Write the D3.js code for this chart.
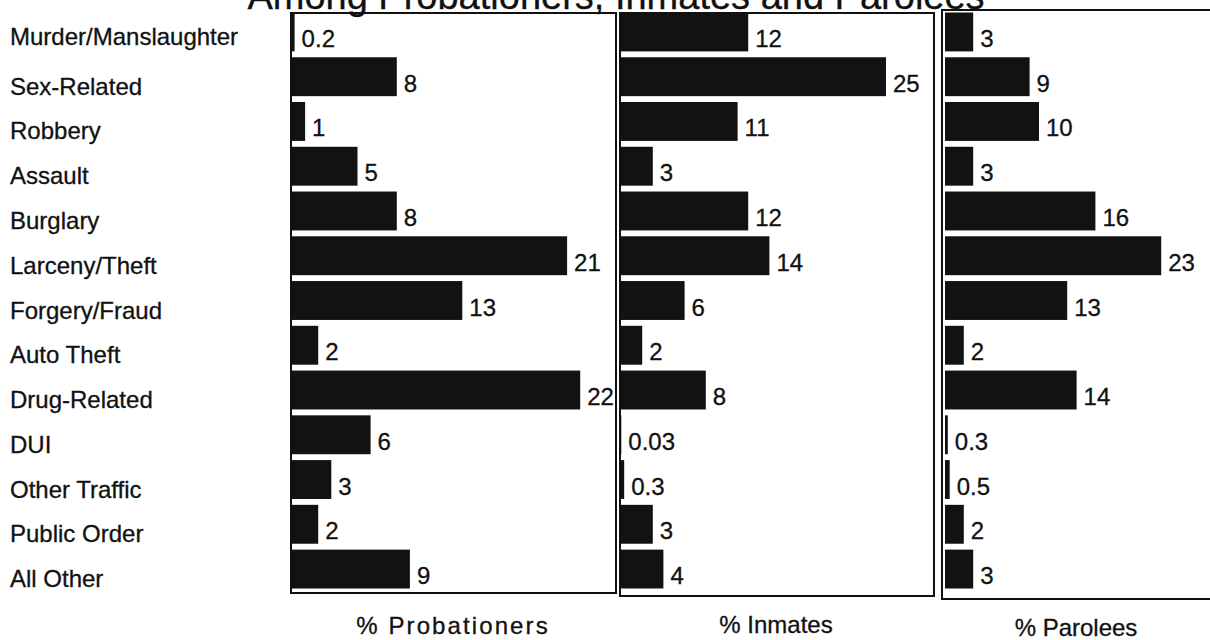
<!DOCTYPE html>
<html>
<head>
<meta charset="utf-8">
<script src="https://cdn.jsdelivr.net/npm/d3@7"></script>
<style>
  html, body { margin: 0; padding: 0; background: #fff; }
  svg { display: block; font-family: "Liberation Sans", Arial, Helvetica, sans-serif; }
  text { stroke: #111; stroke-width: 0.3px; }
</style>
</head>
<body>
<svg id="chart" width="1210" height="640"></svg>
<script>
const chartTitle = "Among Probationers, Inmates and Parolees";
const categories = ["Murder/Manslaughter", "Sex-Related", "Robbery", "Assault", "Burglary",
  "Larceny/Theft", "Forgery/Fraud", "Auto Theft", "Drug-Related", "DUI", "Other Traffic",
  "Public Order", "All Other"];
const probationers = [0.2, 8, 1, 5, 8, 21, 13, 2, 22, 6, 3, 2, 9];
const inmates = [12, 25, 11, 3, 12, 14, 6, 2, 8, 0.03, 0.3, 3, 4];
const parolees = [3, 9, 10, 3, 16, 23, 13, 2, 14, 0.3, 0.5, 2, 3];
const panelTitles = ["% Probationers", "% Inmates", "% Parolees"];

const svg = d3.select("#chart");

// Title (cut off at top, as in the scan)
svg.append("text")
  .attr("x", 616).attr("y", 9)
  .attr("text-anchor", "middle")
  .attr("font-size", 38)
  .attr("fill", "#111")
  .text(chartTitle);

const y = d3.scaleBand().domain(categories).range([12.5, 588.5]).paddingInner(0.131).paddingOuter(0);

// Category labels
svg.append("g").selectAll("text").data(categories).join("text")
  .attr("x", 10)
  .attr("y", (d, i) => y(d) + y.bandwidth() / 2 + (i === 0 ? 13 : 18))
  .attr("font-size", 24)
  .attr("fill", "#111")
  .text(d => d);

const panels = [
  { values: probationers, max: 22, x0: 292, k: 13.1, box: [291, 13, 616, 593], title: panelTitles[0], tx: 453, ty: 634, ls: 2.1 },
  { values: inmates, max: 25, x0: 621, k: 10.6, box: [620, 13, 934, 596], title: panelTitles[1], tx: 776, ty: 633, ls: 0 },
  { values: parolees, max: 23, x0: 945, k: 9.4, box: [942, 10, 1225, 599], title: panelTitles[2], tx: 1076, ty: 636, ls: 0 }
];

panels.forEach(p => {
  const x = d3.scaleLinear().domain([0, p.max]).range([p.x0, p.x0 + p.max * p.k]);
  const g = svg.append("g");
  const rows = categories.map((c, i) => ({ c, v: p.values[i] }));

  g.selectAll("rect.bar").data(rows).join("rect")
    .attr("class", "bar")
    .attr("x", x(0))
    .attr("y", d => y(d.c))
    .attr("width", d => x(d.v) - x(0))
    .attr("height", y.bandwidth())
    .attr("fill", "#121212");

  g.selectAll("text.val").data(rows).join("text")
    .attr("class", "val")
    .attr("x", d => x(d.v) + 7)
    .attr("y", d => y(d.c) + y.bandwidth() / 2 + 15)
    .attr("font-size", 24)
    .attr("fill", "#111")
    .text(d => String(d.v));

  const [bx0, by0, bx1, by1] = p.box;
  g.append("rect")
    .attr("x", bx0).attr("y", by0)
    .attr("width", bx1 - bx0).attr("height", by1 - by0)
    .attr("fill", "none")
    .attr("stroke", "#111")
    .attr("stroke-width", 2);

  svg.append("text")
    .attr("x", p.tx).attr("y", p.ty)
    .attr("text-anchor", "middle")
    .attr("font-size", 24)
    .attr("letter-spacing", p.ls)
    .attr("fill", "#111")
    .text(p.title);
});
</script>
</body>
</html>
